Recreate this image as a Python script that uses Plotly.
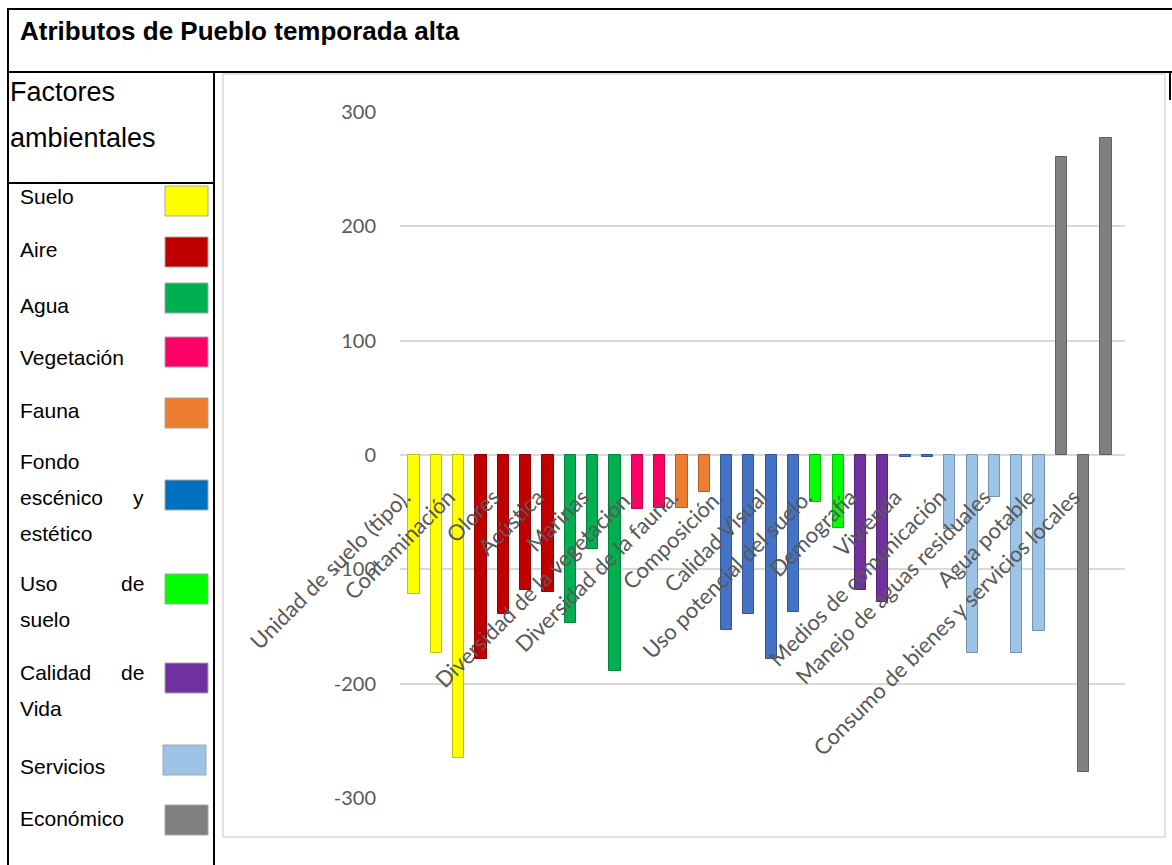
import plotly.graph_objects as go

# ---------------- data ----------------
tick_labels = [
    "Unidad de suelo (tipo).", "Contaminación", "Olores", "Acústica", "Marinas",
    "Diversidad de la vegetación.", "Diversidad de la fauna.", "Composición.",
    "Calidad Visual", "Uso potencial del suelo.", "Demografía", "Vivienda",
    "Medios de comunicación", "Manejo de aguas residuales", "Agua potable",
    "Consumo de bienes y servicios locales",
]
values = [
    -122, -173, -265,
    -178, -139, -118, -120,
    -147, -82, -189,
    -47, -46,
    -46, -32,
    -153, -139, -178, -137,
    -41, -64,
    -118, -129,
    -2, -2,
    -65, -173, -37, -173, -154,
    261, -277, 277,
]
groups = (
    ["Suelo"] * 3 + ["Aire"] * 4 + ["Agua"] * 3 + ["Vegetación"] * 2 + ["Fauna"] * 2
    + ["Fondo"] * 4 + ["Uso de suelo"] * 2 + ["Calidad de Vida"] * 2 + ["Fondo"] * 2
    + ["Servicios"] * 5 + ["Económico"] * 3
)
legend_names = ["Suelo", "Aire", "Agua", "Vegetación", "Fauna", "Fondo",
                "Uso de suelo", "Calidad de Vida", "Servicios", "Económico"]
y_ticks = [-300, -200, -100, 0, 100, 200, 300]

# ---------------- styles ----------------
bar_colors = {
    "Suelo": "#FFFF00", "Aire": "#C00000", "Agua": "#00B050", "Vegetación": "#FF0066",
    "Fauna": "#ED7D31", "Fondo": "#4472C4", "Uso de suelo": "#00FF00",
    "Calidad de Vida": "#7030A0", "Servicios": "#9DC3E6", "Económico": "#808080",
}
swatch_colors = dict(bar_colors)
swatch_colors["Fondo"] = "#0070C0"


def darker(hex_color, f=0.75):
    h = hex_color.lstrip("#")
    r, g, b = (int(h[i:i + 2], 16) for i in (0, 2, 4))
    return "rgb(%d,%d,%d)" % (r * f, g * f, b * f)


W, H = 1172, 865


def px(x):
    return x / W


def py(y):
    return 1 - y / H


positions = list(range(1, len(values) + 1))
tickpos = positions[0::2]

fig = go.Figure(
    go.Bar(
        x=positions,
        y=values,
        width=0.5,
        marker=dict(
            color=[bar_colors[g] for g in groups],
            line=dict(color=[darker(bar_colors[g]) for g in groups], width=1),
        ),
        hoverinfo="x+y",
    )
)

shapes = []
# chart picture frame
shapes.append(dict(type="rect", xref="paper", yref="paper",
                   x0=px(223), x1=px(1165), y0=py(837), y1=py(74),
                   line=dict(color="#D9D9D9", width=1.5), layer="below"))
# table lines
black = dict(color="black", width=2)
for (x0, y0, x1, y1) in [
    (7, 9, 1172, 9),
    (8, 9, 8, 865),
    (8, 72, 1172, 72),
    (214, 72, 214, 865),
    (8, 183, 214, 183),
    (1170, 72, 1170, 100),
]:
    shapes.append(dict(type="line", xref="paper", yref="paper",
                       x0=px(x0), y0=py(y0), x1=px(x1), y1=py(y1), line=black))

annotations = []


def text(t, x, y, size=21, anchor="left", bold=False):
    annotations.append(dict(
        text=("<b>%s</b>" % t) if bold else t, xref="paper", yref="paper",
        x=px(x), y=py(y), xanchor=anchor, yanchor="middle", showarrow=False,
        font=dict(family="Liberation Sans, Arial", size=size, color="black"),
    ))


text("Atributos de Pueblo temporada alta", 18, 31, size=26, bold=True)
text("Factores", 8, 92, size=27)
text("ambientales", 8, 138, size=27)

# legend rows: (lines, text y-centres, swatch y-centre)
legend_rows = [
    ([("Suelo", None)], [196], 201),
    ([("Aire", None)], [250], 252),
    ([("Agua", None)], [305], 298),
    ([("Vegetación", None)], [357], 352),
    ([("Fauna", None)], [411], 413),
    ([("Fondo", None), ("escénico", "y"), ("estético", None)], [461, 497, 533], 495),
    ([("Uso", "de"), ("suelo", None)], [583, 619], 589),
    ([("Calidad", "de"), ("Vida", None)], [672, 708], 678),
    ([("Servicios", None)], [766], 760),
    ([("Económico", None)], [818], 820),
]
for name, (lines, ys, sy) in zip(legend_names, legend_rows):
    for (left, right), yy in zip(lines, ys):
        text(left, 18, yy, size=21)
        if right:
            text(right, 146, yy, size=21, anchor="right")
    x0 = 163 if name == "Servicios" else 165
    shapes.append(dict(type="rect", xref="paper", yref="paper",
                       x0=px(x0), x1=px(x0 + 43), y0=py(sy + 15), y1=py(sy - 15),
                       fillcolor=swatch_colors[name],
                       line=dict(color="#A6A6A6", width=1)))

fig.update_layout(
    width=W, height=H,
    margin=dict(l=0, r=0, t=0, b=0),
    paper_bgcolor="white", plot_bgcolor="white",
    showlegend=False, bargap=0,
    shapes=shapes, annotations=annotations,
    xaxis=dict(
        domain=[px(400), px(1125)], range=[0.37, 32.85],
        anchor="free", position=py(455),
        tickmode="array", tickvals=tickpos, ticktext=tick_labels,
        tickangle=-45, showgrid=False, zeroline=False, showline=False,
        ticks="", automargin=False, ticklabelstandoff=24, ticklabelshift=-10,
        tickfont=dict(family="Lato", size=22, color="#595959"),
    ),
    yaxis=dict(
        domain=[py(798), py(112)], range=[-300, 300],
        tickmode="array", tickvals=y_ticks, ticktext=[str(v) for v in y_ticks],
        showgrid=True, gridcolor="#D9D9D9", gridwidth=1.5,
        zeroline=True, zerolinecolor="#D9D9D9", zerolinewidth=1.5,
        showline=False, ticks="", ticklabelstandoff=23, automargin=False,
        tickfont=dict(family="Lato", size=20, color="#595959"),
    ),
)

fig.write_html(
    "out.html",
    config={"displayModeBar": False},
    post_script="document.body.style.margin='0';document.body.style.overflow='hidden';",
)
